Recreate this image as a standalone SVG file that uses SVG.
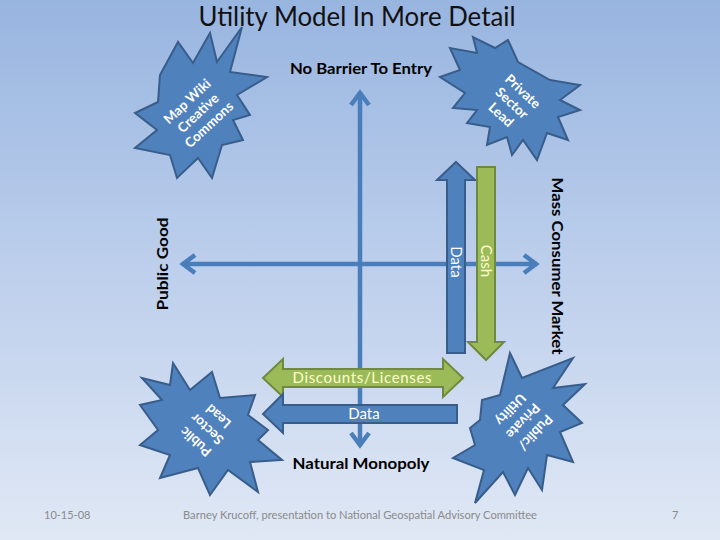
<svg xmlns="http://www.w3.org/2000/svg" width="720" height="540" viewBox="0 0 720 540">
<defs>
<linearGradient id="bg" x1="0" y1="0" x2="0" y2="1">
<stop offset="0" stop-color="#98b5e0"/>
<stop offset="0.5" stop-color="#bdcfec"/>
<stop offset="1" stop-color="#e0e8f5"/>
</linearGradient>
<marker id="ah" markerUnits="userSpaceOnUse" markerWidth="40" markerHeight="40" viewBox="-20 -20 40 40" refX="0" refY="0" orient="auto-start-reverse" overflow="visible">
<path d="M-13,-9 L-1,0 L-13,9" fill="none" stroke="#4a7ebb" stroke-width="4.5" stroke-linejoin="miter"/>
</marker>
<style>
.star{fill:#4f81bd;stroke:#385d8a;stroke-width:2;stroke-linejoin:miter}
.blue{fill:#4f81bd;stroke:#385d8a;stroke-width:2}
.green{fill:#9bbb59;stroke:#71893f;stroke-width:2}
.axis{fill:none;stroke:#4a7ebb;stroke-width:4.5;marker-start:url(#ah);marker-end:url(#ah)}
.st{font-family:Lato,"Liberation Sans",sans-serif;font-size:13.5px;font-weight:bold;fill:#ffffff;text-anchor:middle}
.lbl{font-family:Lato,"Liberation Sans",sans-serif;font-size:15px;font-weight:bold;fill:#000000;text-anchor:middle}
.in{font-family:Lato,"Liberation Sans",sans-serif;font-size:15px;text-anchor:middle}
.ft{font-family:Lato,"Liberation Sans",sans-serif;font-size:11px;fill:#8a8a8a}
</style>
</defs>
<rect x="0" y="0" width="720" height="540" fill="url(#bg)"/>
<text x="357" y="26" font-family="Lato,'Liberation Sans',sans-serif" font-size="26" fill="#111111" text-anchor="middle" textLength="317" lengthAdjust="spacingAndGlyphs">Utility Model In More Detail</text>

<g id="star-tl">
<polygon class="star" points="210,33 217,62 242,27 230,72 267,77 237,95 250,115 233,120 243,140 222,145 212,178 198,158 177,178 170,155 135,148 157,130 135,113 158,102 160,75 178,42 193,63"/>
<g transform="translate(198,113) rotate(-43)">
<text class="st" x="0" y="-16" dy="0.35em">Map Wiki</text>
<text class="st" x="0" y="0" dy="0.35em">Creative</text>
<text class="st" x="0" y="16" dy="0.35em">Commons</text>
</g>
</g>

<g id="star-tr">
<polygon class="star" points="440,77 460,70 450,48 477,53 473,37 495,48 508,40 518,62 550,80 580,85 560,100 580,110 558,117 568,140 547,133 537,160 523,140 512,155 507,137 487,145 490,127 467,123 477,110 453,108 465,93"/>
<g transform="translate(512,103) rotate(43)">
<text class="st" x="0" y="-16" dy="0.35em">Private</text>
<text class="st" x="0" y="0" dy="0.35em">Sector</text>
<text class="st" x="0" y="16" dy="0.35em">Lead</text>
</g>
</g>

<g id="star-bl">
<polygon class="star" points="173,363 190,390 212,372 220,398 255,395 248,415 268,430 258,440 282,460 250,462 258,492 228,470 210,495 198,468 160,478 170,455 140,445 158,430 140,405 162,400 142,378 170,385"/>
<g transform="translate(207,429) rotate(-138)">
<text class="st" x="0" y="-17" dy="0.35em">Public</text>
<text class="st" x="0" y="0" dy="0.35em">Sector</text>
<text class="st" x="0" y="17" dy="0.35em">Lead</text>
</g>
</g>

<g id="star-br">
<polygon class="star" points="510,353 522,378 573,358 553,388 585,384 563,405 582,423 560,432 573,462 547,455 542,490 528,468 515,495 503,472 475,503 484,470 453,458 475,445 470,428 480,420 482,400 500,395"/>
<g transform="translate(523,421) rotate(133)">
<text class="st" x="0" y="-17" dy="0.35em">Public/</text>
<text class="st" x="0" y="0" dy="0.35em">Private</text>
<text class="st" x="0" y="17" dy="0.35em">Utility</text>
</g>
</g>

<g id="connectors">
<line class="axis" x1="360" y1="92" x2="360" y2="446"/>
<line class="axis" x1="182" y1="264" x2="537" y2="264"/>
</g>

<g id="arrow-data-up">
<path class="blue" d="M456,162 L475,180 L465,180 L465,353 L447,353 L447,180 L437,180 Z"/>
<text class="in" fill="#ffffff" transform="translate(456,262) rotate(90)" dy="0.35em">Data</text>
</g>
<g id="arrow-cash-down">
<path class="green" d="M477,167 L495,167 L495,342 L504,342 L486,360 L468,342 L477,342 Z"/>
<text class="in" fill="#ffffcc" transform="translate(486,261) rotate(90)" dy="0.35em">Cash</text>
</g>
<g id="arrow-discounts">
<path class="green" d="M263,378 L283,359 L283,369 L443,369 L443,359 L463,378 L443,397 L443,387 L283,387 L283,397 Z"/>
<text class="in" fill="#ffffcc" x="362" y="378" dy="0.35em" textLength="139" lengthAdjust="spacing">Discounts/Licenses</text>
</g>
<g id="arrow-data-left">
<path class="blue" d="M263,414 L283,394 L283,405 L457,405 L457,423 L283,423 L283,433 Z"/>
<text class="in" fill="#ffffff" x="364" y="414" dy="0.35em">Data</text>
</g>

<g id="labels">
<text class="lbl" x="361" y="74" textLength="142" lengthAdjust="spacingAndGlyphs">No Barrier To Entry</text>
<text class="lbl" x="361" y="469" textLength="137" lengthAdjust="spacingAndGlyphs">Natural Monopoly</text>
<text class="lbl" transform="translate(163,264) rotate(-90)" dy="0.35em" textLength="93" lengthAdjust="spacingAndGlyphs">Public Good</text>
<text class="lbl" transform="translate(557,266) rotate(90)" dy="0.35em" textLength="177" lengthAdjust="spacingAndGlyphs">Mass Consumer Market</text>
</g>

<g id="footer">
<text class="ft" x="44" y="519">10-15-08</text>
<text class="ft" x="360" y="519" text-anchor="middle" textLength="354" lengthAdjust="spacingAndGlyphs">Barney Krucoff, presentation to National Geospatial Advisory Committee</text>
<text class="ft" x="672" y="519">7</text>
</g>
</svg>
